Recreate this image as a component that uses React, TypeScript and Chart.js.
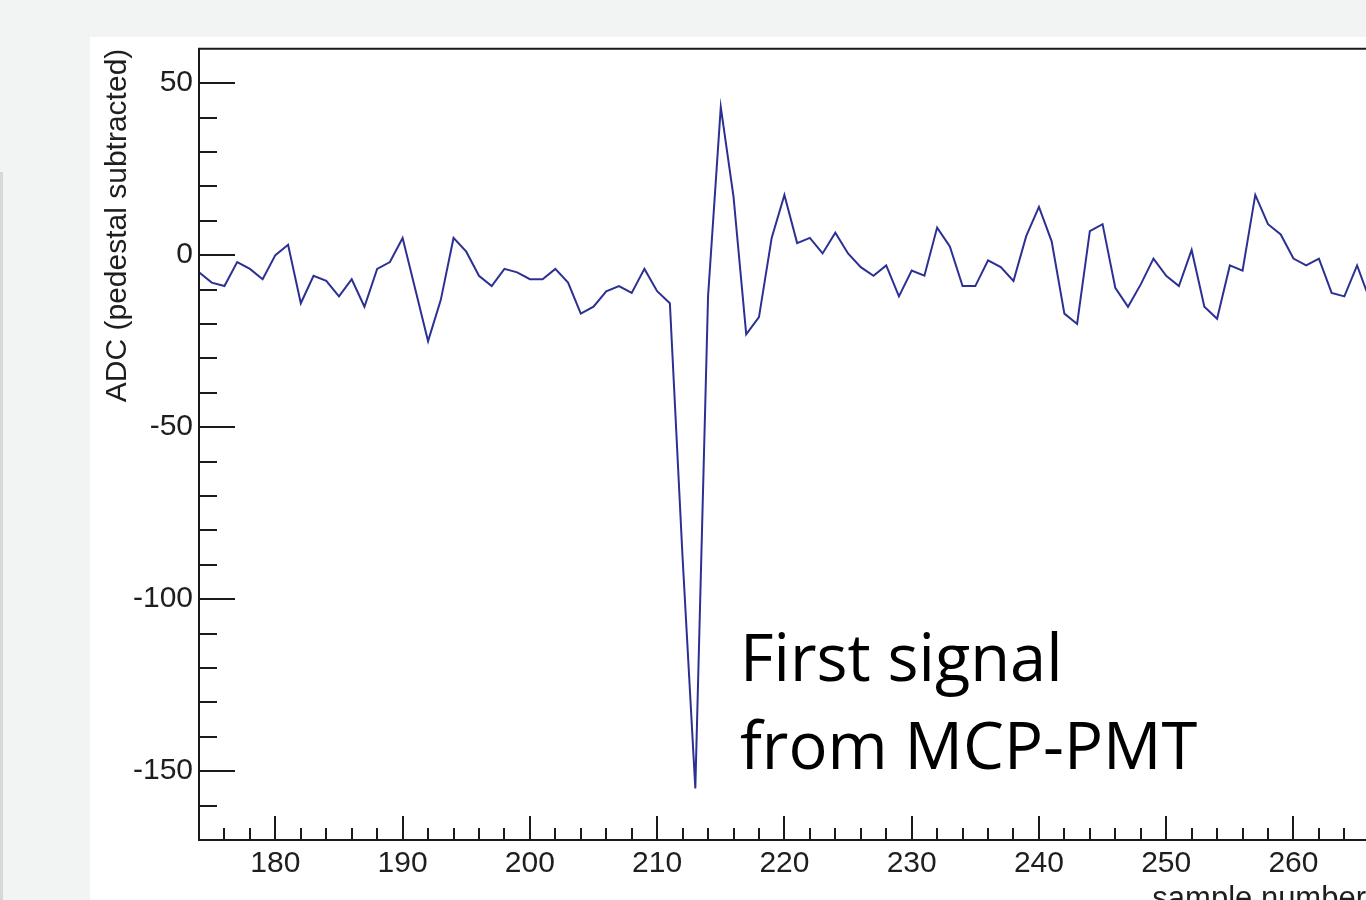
import React, { useEffect, useRef } from "react";
import { Chart, registerables } from "chart.js";

Chart.register(...registerables);

// ---- data ----
const firstSample = 174;
const adcValues: number[] = [
  -5, -8, -9, -2, -4, -7, 0, 3, -14, -6, // 174-183
  -7.5, -12, -7, -15, -4, -2, 5, -10, -25, -13, // 184-193
  5, 1, -6, -9, -4, -5, -7, -7, -4, -8, // 194-203
  -17, -15, -10.5, -9, -11, -4, -10.5, -14, -88, -155, // 204-213
  -12, 43, 17, -23, -18, 5, 17.5, 3.5, 5, 0.5, // 214-223
  6.5, 0.5, -3.5, -6, -3, -12, -4.5, -6, 8, 2.5, // 224-233
  -9, -9, -1.5, -3.5, -7.5, 5.5, 14, 4, -17, -20, // 234-243
  7, 9, -9.5, -15, -8.5, -1, -6, -9, 1.5, -15, // 244-253
  -18.5, -3, -4.5, 17.5, 9, 6, -1, -3, -1, -11, // 254-263
  -12, -3, -13, // 264-266
];
const sampleNumbers: number[] = adcValues.map((_, i) => firstSample + i);

const xTickLabels: number[] = [180, 190, 200, 210, 220, 230, 240, 250, 260];
const yTickLabels: number[] = [50, 0, -50, -100, -150];

const xMin = 174;
const xMax = 265.7;
const yMin = -170;
const yMax = 60;

const xTitle = "sample number";
const yTitle = "ADC (pedestal subtracted)";
const noteLines = ["First signal", "from MCP-PMT"];

const axisFont = { family: "'Liberation Sans', Arial, sans-serif", size: 30 };
const titleFont = { family: "'Liberation Sans', Arial, sans-serif", size: 31 };
const textColor = "#1e1e1e";
const lineColor = "#2c3093";

const framePlugin = {
  id: "rootFrame",
  afterDraw(chart: any) {
    const { ctx, chartArea: a, scales } = chart;
    const xs = scales.x;
    const ys = scales.y;
    ctx.save();
    ctx.strokeStyle = "#1a1a1a";
    ctx.lineWidth = 2;
    ctx.beginPath();
    ctx.moveTo(a.right + 10, a.top);
    ctx.lineTo(a.left, a.top);
    ctx.lineTo(a.left, a.bottom);
    ctx.lineTo(a.right + 10, a.bottom);
    ctx.stroke();

    ctx.lineWidth = 2;
    ctx.beginPath();
    // y ticks: minor every 10, major every 50
    for (let v = Math.ceil(yMin / 10) * 10; v <= yMax; v += 10) {
      const py = Math.round(ys.getPixelForValue(v));
      if (py <= a.top + 1 || py >= a.bottom - 1) continue;
      const len = yTickLabels.includes(v) ? 36 : 18;
      ctx.moveTo(a.left, py);
      ctx.lineTo(a.left + len, py);
    }
    // x ticks: minor every 2, major every 10
    for (let v = Math.ceil(xMin / 2) * 2; v <= xMax + 2; v += 2) {
      const px = Math.round(xs.getPixelForValue(v));
      if (px <= a.left + 1) continue;
      const len = xTickLabels.includes(v) ? 24 : 12;
      ctx.moveTo(px, a.bottom);
      ctx.lineTo(px, a.bottom - len);
    }
    ctx.stroke();
    ctx.restore();
  },
};

export default function App() {
  const canvasRef = useRef<HTMLCanvasElement | null>(null);

  useEffect(() => {
    const canvas = canvasRef.current;
    if (!canvas) return;
    const points = sampleNumbers.map((s, i) => ({ x: s, y: adcValues[i] }));
    const chart = new Chart(canvas, {
      type: "line",
      data: {
        datasets: [
          {
            data: points,
            borderColor: lineColor,
            borderWidth: 2,
            pointRadius: 0,
            tension: 0,
            fill: false,
          },
        ],
      },
      options: {
        animation: false,
        responsive: false,
        devicePixelRatio: 1,
        layout: { padding: { top: 11.7, right: 0, left: 0, bottom: 0 } },
        plugins: {
          legend: { display: false },
          tooltip: { enabled: false },
        },
        scales: {
          x: {
            type: "linear",
            min: xMin,
            max: xMax,
            grid: { display: false, drawTicks: false },
            border: { display: false },
            afterBuildTicks: (ax: any) => {
              ax.ticks = xTickLabels.map((v) => ({ value: v }));
            },
            ticks: {
              font: axisFont,
              color: textColor,
              padding: 6,
              maxRotation: 0,
              autoSkip: false,
            },
            title: {
              display: true,
              text: xTitle,
              align: "end",
              font: titleFont,
              color: textColor,
              padding: { top: 0, bottom: 22 },
            },
            afterFit: (ax: any) => {
              ax.height = 100;
              ax.paddingLeft = 0;
              ax.paddingRight = 0;
            },
          },
          y: {
            type: "linear",
            min: yMin,
            max: yMax,
            grid: { display: false, drawTicks: false },
            border: { display: false },
            afterBuildTicks: (ax: any) => {
              ax.ticks = yTickLabels.map((v) => ({ value: v }));
            },
            ticks: {
              font: axisFont,
              color: textColor,
              padding: 6,
              autoSkip: false,
            },
            title: {
              display: true,
              text: yTitle,
              align: "end",
              font: axisFont,
              color: textColor,
              padding: { top: 9.5, bottom: 0 },
            },
            afterFit: (ax: any) => {
              ax.width = 109;
              ax.paddingTop = 0;
              ax.paddingBottom = 0;
            },
          },
        },
      },
      plugins: [framePlugin],
    } as any);
    return () => chart.destroy();
  }, []);

  return (
    <div
      style={{
        position: "fixed",
        left: 0,
        top: 0,
        width: 1366,
        height: 900,
        overflow: "hidden",
        background: "#f2f3f3",
      }}
    >
      <div
        style={{
          position: "absolute",
          left: 0,
          top: 172,
          width: 3,
          height: 728,
          background: "#d6d9d6",
        }}
      />
      <div
        style={{
          position: "absolute",
          left: 90,
          top: 37,
          width: 1276,
          height: 863,
          background: "#ffffff",
        }}
      >
        <canvas
          ref={canvasRef}
          width={1276}
          height={903}
          style={{ position: "absolute", left: 0, top: 0, width: 1276, height: 903 }}
        />
      </div>
      <div
        style={{
          position: "absolute",
          left: 740,
          top: 612,
          fontFamily: "'Open Sans', sans-serif",
          fontSize: 65,
          lineHeight: "88px",
          color: "#000",
          whiteSpace: "nowrap",
        }}
      >
        {noteLines.map((t) => (
          <div key={t}>{t}</div>
        ))}
      </div>
    </div>
  );
}
